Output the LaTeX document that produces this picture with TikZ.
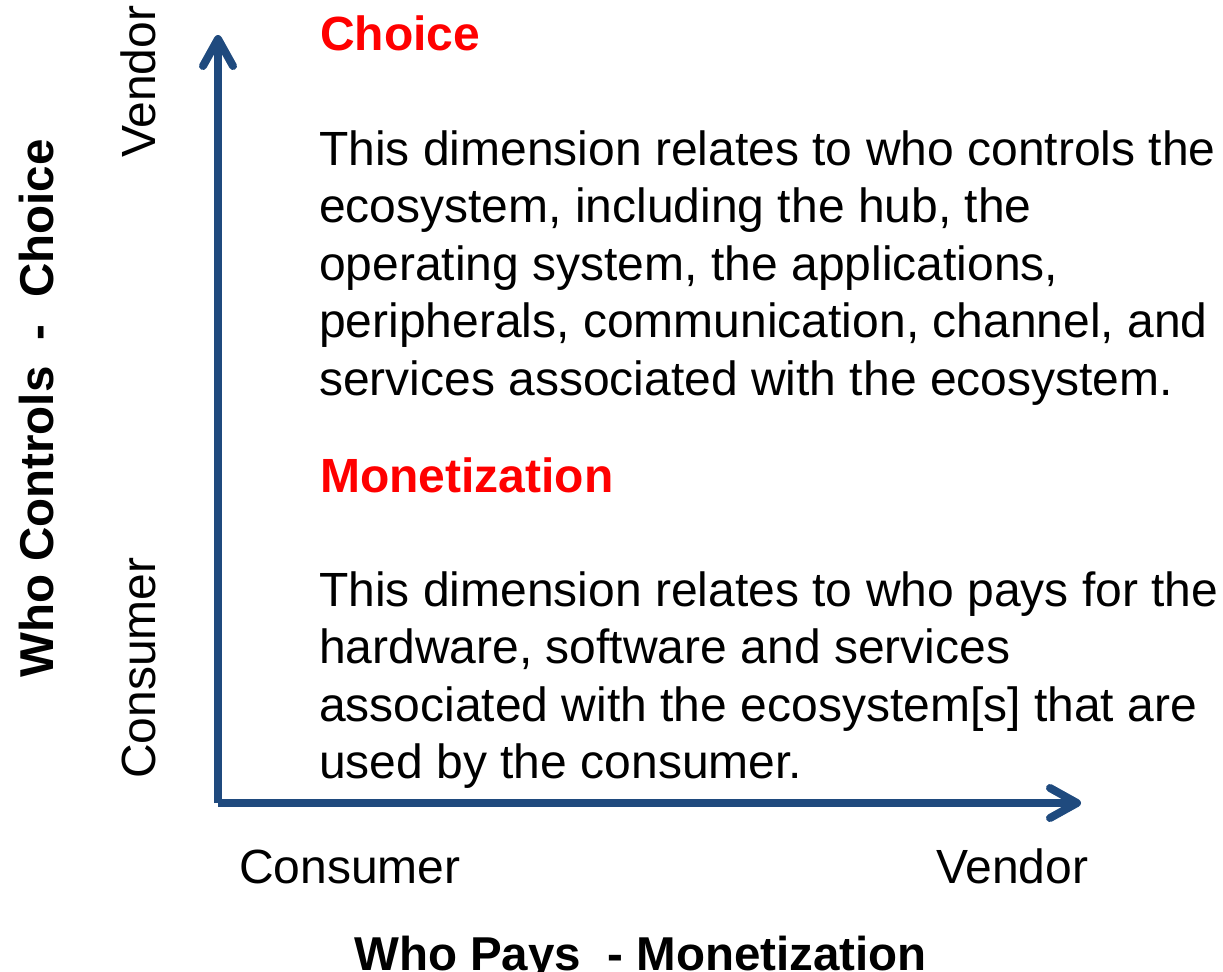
\documentclass[tikz,border=0pt]{standalone}
\usepackage{fontspec}
\setmainfont{Liberation Sans}
\usetikzlibrary{arrows.meta}
\definecolor{axisblue}{HTML}{1F4A7E}
\definecolor{titlered}{HTML}{FF0000}
\tikzset{
  axis/.style={draw=axisblue, line width=8bp, -{Straight Barb[round,length=27bp,width=30bp]}},
  body/.style={anchor=base west, inner sep=0pt, font=\fontsize{48bp}{57.5bp}\selectfont},
  head/.style={anchor=base west, inner sep=0pt, text=titlered, font=\fontsize{48bp}{57.5bp}\selectfont\bfseries},
  axtitle/.style={anchor=base west, inner sep=0pt, font=\fontsize{47.5bp}{57bp}\selectfont\bfseries},
}
\begin{document}
\begin{tikzpicture}[x=1bp,y=-1bp]
\useasboundingbox (0,0) rectangle (1223,972);
\coordinate (origin) at (218,803);
\coordinate (ytip) at (218,35);
\coordinate (xtip) at (1081,803);
\draw[axis] (origin) -- (ytip);
\draw[axis] (origin) -- (xtip);

\node[head] (choice) at (320,50) {Choice};
\node[body] (c1) at (319,165) {This dimension relates to who controls the};
\node[body] (c2) at (319,222.5) {ecosystem, including the hub, the};
\node[body] (c3) at (319,280) {operating system, the applications,};
\node[body] (c4) at (319,337.5) {peripherals, communication, channel, and};
\node[body] (c5) at (319,395) {services associated with the ecosystem.};

\node[head] (monet) at (320,492) {Monetization};
\node[body] (m1) at (319,606) {This dimension relates to who pays for the};
\node[body] (m2) at (319,663.5) {hardware, software and services};
\node[body] (m3) at (319,721) {associated with the ecosystem[s] that are};
\node[body] (m4) at (319,778) {used by the consumer.};

\node[body] (xcons) at (239,883) {Consumer};
\node[body] (xvend) at (936,883) {Vendor};
\node[axtitle] (xtitle) at (354,970) {Who Pays\ \ - Monetization};

\node[body, rotate=90] (yvend) at (155,158) {Vendor};
\node[body, rotate=90] (ycons) at (155,779) {Consumer};
\node[axtitle, rotate=90] (ytitle) at (53,678) {Who Controls\ \ -\ \ Choice};
\end{tikzpicture}
\end{document}
